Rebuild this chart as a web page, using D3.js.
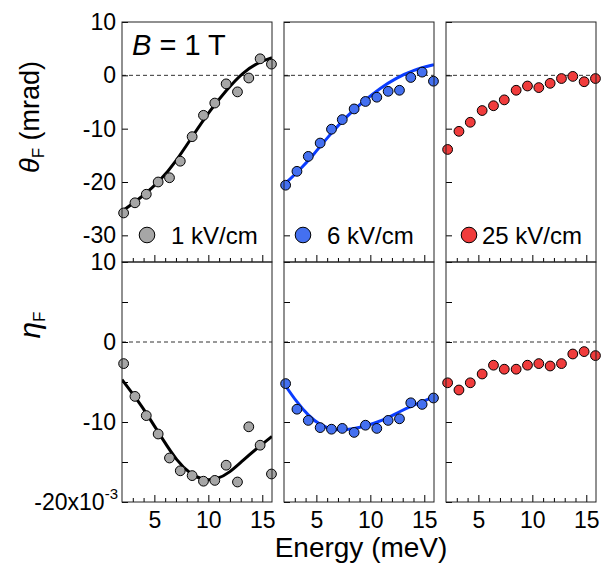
<!DOCTYPE html>
<html>
<head>
<meta charset="utf-8">
<script src="https://cdn.jsdelivr.net/npm/d3@7"></script>
<style>
  body { margin: 0; background: #fff; }
  svg { font-family: "Liberation Sans", Arial, sans-serif; }
</style>
</head>
<body>
<svg></svg>
<script>
// data (theta in mrad, eta in units of 1e-3)
const energy = [2.15, 3.2, 4.25, 5.35, 6.4, 7.4, 8.5, 9.55, 10.6, 11.65, 12.7, 13.75, 14.8, 15.85]

const theta1 = [-25.8, -23.9, -22.3, -20.0, -19.2, -16.1, -11.5, -7.5, -5.2, -1.6, -3.1, -0.5, 3.1, 2.1]
const theta6 = [-20.6, -18.0, -15.2, -12.7, -10.1, -8.3, -6.3, -4.9, -4.1, -3.0, -2.8, -0.4, 0.6, -1.1]
const theta25 = [-13.9, -10.5, -8.8, -6.6, -5.7, -4.6, -2.8, -2.0, -2.3, -1.5, -0.6, -0.2, -1.2, -0.6]

const eta1 = [-2.7, -6.8, -9.2, -11.5, -14.5, -16.1, -16.7, -17.4, -17.3, -15.4, -17.5, -10.6, -12.9, -16.5]
const eta6 = [-5.2, -8.4, -9.8, -10.7, -10.9, -10.8, -11.3, -10.4, -10.8, -9.8, -9.6, -7.6, -7.8, -7.0]
const eta25 = [-5.1, -6.0, -5.1, -4.0, -2.9, -3.4, -3.4, -2.9, -2.7, -3.0, -2.7, -1.5, -1.2, -1.7]

// fit curves
const fitThetaE1 = [2.0, 3.97, 5.52, 7.06, 8.6, 10.15, 11.7, 13.2, 14.8, 15.9]
const fitTheta1 = [-25.5, -22.6, -19.8, -16.0, -11.2, -6.6, -2.7, 0.6, 2.6, 3.3]
const fitThetaE6 = [2.0, 3.48, 4.72, 6.26, 7.8, 9.35, 10.9, 12.4, 14.0, 15.9]
const fitTheta6 = [-20.5, -17.7, -14.9, -11.1, -7.7, -4.9, -2.4, -0.5, 1.0, 2.0]
const fitEtaE1 = [2.0, 3.36, 4.6, 5.83, 7.06, 8.3, 9.53, 10.8, 12.0, 13.2, 14.5, 15.9]
const fitEta1 = [-4.7, -7.1, -9.6, -12.3, -14.8, -16.5, -17.3, -17.2, -16.3, -14.8, -13.3, -11.8]
const fitEtaE6 = [2.0, 3.17, 4.25, 5.33, 6.56, 7.8, 9.04, 10.27, 11.5, 12.7, 14.0, 15.8]
const fitEta6 = [-5.2, -7.5, -9.2, -10.4, -11.0, -11.0, -10.7, -10.2, -9.6, -8.7, -7.9, -6.9]

const fieldLabels = ['1 kV/cm', '6 kV/cm', '25 kV/cm']
const thetaTicks = [-30, -20, -10, 0, 10]
const etaTicks = [-20, -15, -10, -5, 0, 5, 10]
const etaTickLabels = ['', '', '-10', '', '0', '', '10']
const xMajor = [5, 10, 15]

// layout
const width = 604
const height = 573
const panelX = [122, 284, 446]
const panelW = 150
const topY = 22
const midY = 262
const botY = 502

const fills = ['#a6a6a6', '#4470f0', '#f03c3c']
const lineColors = ['#000000', '#0a3cff', null]
const legendOffsets = [[25, 49], [19, 43], [23, 36]]

let svg = d3.select('svg').attr('width', width).attr('height', height)

let xScale = d3.scaleLinear().domain([2, 15.9]).range([0, panelW])
let yTheta = d3.scaleLinear().domain([-35, 10]).range([midY, topY])
let yEta = d3.scaleLinear().domain([-20, 10]).range([botY, midY])

const thetaSeries = [theta1, theta6, theta25]
const etaSeries = [eta1, eta6, eta25]
const thetaFits = [[fitThetaE1, fitTheta1], [fitThetaE6, fitTheta6], null]
const etaFits = [[fitEtaE1, fitEta1], [fitEtaE6, fitEta6], null]

let defs = svg.append('defs')

function drawPanel(col, row) {
    let yScale = row === 0 ? yTheta : yEta
    let values = row === 0 ? thetaSeries[col] : etaSeries[col]
    let fit = row === 0 ? thetaFits[col] : etaFits[col]
    let y0 = row === 0 ? topY : midY
    let y1 = row === 0 ? midY : botY

    let g = svg.append('g').attr('transform', 'translate(' + panelX[col] + ',0)')

    let clipId = 'clip' + col + row
    defs.append('clipPath').attr('id', clipId)
        .append('rect').attr('x', 0).attr('y', y0).attr('width', panelW).attr('height', y1 - y0)

    // zero line
    g.append('line')
        .attr('x1', 0).attr('x2', panelW)
        .attr('y1', yScale(0)).attr('y2', yScale(0))
        .attr('stroke', '#333').attr('stroke-width', 1)
        .attr('stroke-dasharray', '4,3')

    // y axis (ticks inward)
    let yAxis = d3.axisLeft(yScale)
        .tickValues(row === 0 ? thetaTicks : etaTicks)
        .tickSizeInner(-6).tickSizeOuter(0).tickPadding(6)
        .tickFormat((d, i) => {
            if (col !== 0) return ''
            if (row === 0) return d
            return etaTickLabels[i]
        })
    let ya = g.append('g').call(yAxis)
    ya.select('.domain').remove()
    ya.selectAll('text').attr('font-size', 23).attr('fill', '#000')
    ya.selectAll('line').attr('stroke', '#000')

    // x axis minor + major ticks (inward)
    let xMinor = d3.axisBottom(xScale)
        .tickValues(d3.range(3, 16).filter(v => v % 5 !== 0))
        .tickSizeInner(-4).tickSizeOuter(0).tickFormat('')
    let xm = g.append('g').attr('transform', 'translate(0,' + y1 + ')').call(xMinor)
    xm.select('.domain').remove()
    xm.selectAll('line').attr('stroke', '#000')

    let xMaj = d3.axisBottom(xScale)
        .tickValues(xMajor)
        .tickSizeInner(-7).tickSizeOuter(0).tickPadding(10)
        .tickFormat(row === 1 ? d => d : '')
    let xa = g.append('g').attr('transform', 'translate(0,' + y1 + ')').call(xMaj)
    xa.select('.domain').remove()
    xa.selectAll('line').attr('stroke', '#000')
    xa.selectAll('text').attr('font-size', 23).attr('fill', '#000')

    // fit line
    if (fit) {
        let line = d3.line()
            .x((d, i) => xScale(fit[0][i]))
            .y(d => yScale(d))
            .curve(d3.curveBasis)
        g.append('path')
            .datum(fit[1])
            .attr('clip-path', 'url(#' + clipId + ')')
            .attr('d', line)
            .attr('fill', 'none')
            .attr('stroke', lineColors[col])
            .attr('stroke-width', 3)
    }

    // points
    g.selectAll('circle.pt')
        .data(values)
        .enter()
        .append('circle')
        .attr('class', 'pt')
        .attr('cx', (d, i) => xScale(energy[i]))
        .attr('cy', d => yScale(d))
        .attr('r', 4.9)
        .attr('fill', fills[col])
        .attr('stroke', '#000')
        .attr('stroke-width', 1)

    // frame
    g.append('rect')
        .attr('x', 0).attr('y', y0)
        .attr('width', panelW).attr('height', y1 - y0)
        .attr('fill', 'none')
        .attr('stroke', '#222')
        .attr('stroke-width', 1)

    // legend in top row
    if (row === 0) {
        let [cOff, tOff] = legendOffsets[col]
        g.append('circle')
            .attr('cx', cOff).attr('cy', 235).attr('r', 7.8)
            .attr('fill', fills[col]).attr('stroke', '#000').attr('stroke-width', 1)
        g.append('text')
            .attr('x', tOff).attr('y', 235)
            .attr('dy', '0.36em')
            .attr('font-size', 24)
            .text(fieldLabels[col])
    }
}

for (let row = 0; row < 2; row++) {
    for (let col = 0; col < 3; col++) {
        drawPanel(col, row)
    }
}

// B = 1 T
let bt = svg.append('text').attr('x', 132).attr('y', 55).attr('font-size', 29)
bt.append('tspan').attr('font-style', 'italic').text('B')
bt.append('tspan').text(' = 1 T')

// -20x10^-3 label
let lab = svg.append('text')
    .attr('x', 118).attr('y', botY).attr('dy', '0.36em')
    .attr('text-anchor', 'end').attr('font-size', 23)
lab.append('tspan').text('-20x10')
lab.append('tspan').attr('font-size', 15).attr('dy', '-0.75em').text('-3')

// y titles
let t1 = svg.append('text')
    .attr('transform', 'translate(39,117) rotate(-90)')
    .attr('text-anchor', 'middle').attr('font-size', 27)
t1.append('tspan').attr('font-style', 'italic').text('θ')
t1.append('tspan').attr('font-size', 17).attr('dy', '0.3em').text('F')
t1.append('tspan').attr('dy', '-0.2em').text(' (mrad)')

let t2 = svg.append('text')
    .attr('transform', 'translate(40,325) rotate(-90)')
    .attr('text-anchor', 'middle').attr('font-size', 30)
t2.append('tspan').attr('font-style', 'italic').text('η')
t2.append('tspan').attr('font-size', 17).attr('dy', '0.3em').text('F')

// x title
svg.append('text')
    .attr('x', 361).attr('y', 557)
    .attr('text-anchor', 'middle').attr('font-size', 28)
    .text('Energy (meV)')
</script>
</body>
</html>
